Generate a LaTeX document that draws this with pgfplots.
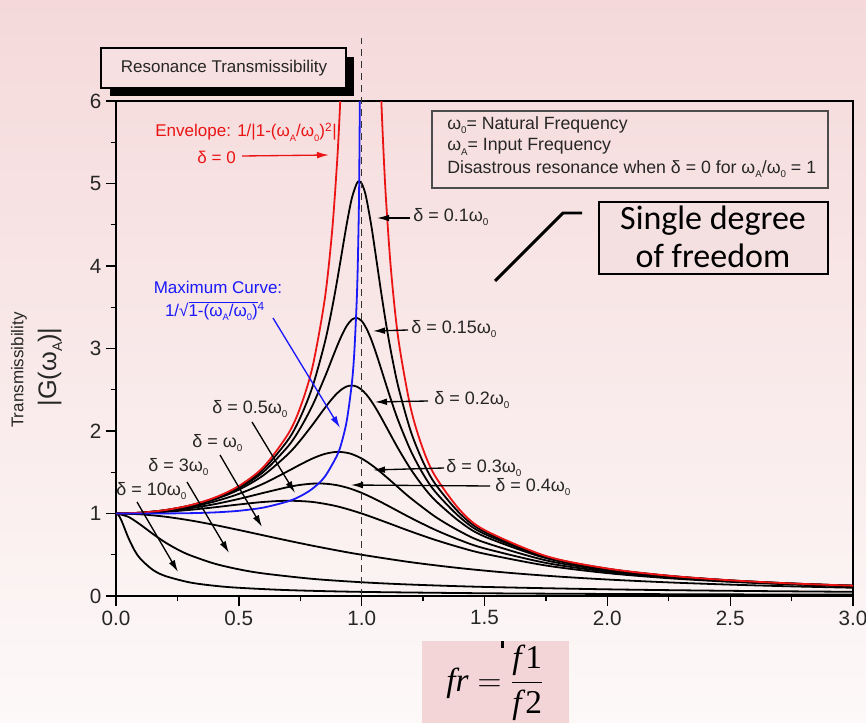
\documentclass[border=0pt]{standalone}
\usepackage{graphicx}
\usepackage{pgfplots}
\pgfplotsset{compat=1.18}
\usepackage{fontspec}
\setmainfont{Liberation Sans}
\newfontfamily\calib{Carlito}
\newfontfamily\tnr{Liberation Serif}
\usetikzlibrary{arrows.meta}
\definecolor{bgtop}{RGB}{245,217,218}
\definecolor{bgbot}{RGB}{253,249,249}
\definecolor{titlefill}{RGB}{247,224,225}
\definecolor{boxpink}{RGB}{243,213,215}
\definecolor{sdpink}{RGB}{244,224,225}
\definecolor{myred}{RGB}{235,20,20}
\definecolor{myblue}{RGB}{25,25,250}
\newcommand{\sub}[1]{\raisebox{-0.45ex}{\scalebox{0.55}{#1}}}
\newcommand{\fs}[1]{\fontsize{#1pt}{#1pt}\selectfont}
\begin{document}
\begin{tikzpicture}[x=0.75pt,y=-0.75pt]
\path[use as bounding box] (0,0) rectangle (866,723);
\shade[top color=bgtop,bottom color=bgbot] (0,0) rectangle (866,723);
% title box
\fill[black] (110,57) rectangle (354,96);
\draw[line width=0.8pt,fill=titlefill] (101,48) rectangle (346,88);
\node[font=\fs{12.75},black!85] at (224,68) {Resonance Transmissibility};
% formula box
\fill[boxpink] (422,641) rectangle (569,723);
\fill[black] (501,641) rectangle (504,648);
\node[font=\fs{25}] at (495,683) {$\displaystyle \hbox{\tnr\itshape fr}=\frac{\hbox{\tnr\itshape f\/\upshape 1}}{\hbox{\tnr\itshape f\/\upshape 2}}$};
\begin{axis}[at={(87pt,-447pt)},anchor=south west,scale only axis,
  width=552.75pt,height=371.25pt,
  xmin=0,xmax=3,ymin=0,ymax=6,
  axis line style={line width=1.4pt},
  every tick/.style={black,line width=1pt},
  tick align=outside,
  xtick pos=bottom, ytick pos=left,
  xtick={0,0.5,1,1.5,2,2.5,3}, ytick={0,1,2,3,4,5,6},
  minor x tick num=1, minor y tick num=1,
  major tick length=7.5pt, minor tick length=4pt,
  xticklabel style={/pgf/number format/.cd,fixed,fixed zerofill,precision=1},
  /pgf/number format/assume math mode=true,
  tick label style={font=\fs{15.5},black!85},
  every axis plot/.append style={line width=1.35pt,smooth,no markers}]
% delta = 0.1
\addplot[black] coordinates {(0,1) (0.1,1.0099) (0.2,1.0408) (0.3,1.0965) (0.4,1.1851) (0.5,1.3216) (0.6,1.5357) (0.7,1.8908) (0.75,2.1622) (0.8,2.5384) (0.85,3.0728) (0.88,3.4949) (0.9,3.8208) (0.92,4.1721) (0.94,4.5224) (0.96,4.8218) (0.98,5.0010) (0.99,5.0251) (1.0,5.0) (1.01,4.9262) (1.02,4.8086) (1.04,4.4755) (1.06,4.0750) (1.08,3.6675) (1.1,3.2880) (1.12,2.9502) (1.15,2.5245) (1.2,1.9952) (1.25,1.6246) (1.3,1.3562) (1.4,1.0) (1.5,0.7779) (1.75,0.4780) (2.0,0.3304) (2.25,0.2447) (2.5,0.1896) (2.75,0.1519) (3.0,0.1247)};
% delta = 0.15
\addplot[black] coordinates {(0,1) (0.1,1.0096) (0.2,1.0396) (0.3,1.0936) (0.4,1.1785) (0.5,1.3074) (0.6,1.5041) (0.7,1.8131) (0.75,2.0327) (0.8,2.3113) (0.85,2.6534) (0.88,2.8797) (0.9,3.0289) (0.92,3.1660) (0.94,3.2778) (0.96,3.3503) (0.98,3.3709) (1.0,3.3333) (1.02,3.2398) (1.04,3.1009) (1.06,2.9311) (1.08,2.7455) (1.1,2.5566) (1.12,2.3728) (1.15,2.1174) (1.2,1.7590) (1.25,1.4792) (1.3,1.2617) (1.4,0.9543) (1.5,0.7527) (1.75,0.4699) (2.0,0.3269) (2.25,0.2428) (2.5,0.1886) (2.75,0.1512) (3.0,0.1242)};
% delta = 0.2
\addplot[black] coordinates {(0,1) (0.1,1.0093) (0.2,1.0381) (0.3,1.0895) (0.4,1.1695) (0.5,1.2883) (0.6,1.4630) (0.7,1.7188) (0.75,1.8851) (0.8,2.0761) (0.85,2.2786) (0.88,2.3918) (0.9,2.4566) (0.92,2.5077) (0.94,2.5407) (0.96,2.5515) (0.98,2.5381) (1.0,2.5) (1.02,2.4391) (1.04,2.3589) (1.06,2.2642) (1.08,2.1601) (1.1,2.0511) (1.15,1.7800) (1.2,1.5357) (1.25,1.3287) (1.3,1.1574) (1.4,0.8998) (1.5,0.7212) (1.75,0.4591) (2.0,0.3221) (2.25,0.2403) (2.5,0.1871) (2.75,0.1503) (3.0,0.1236)};
% delta = 0.3
\addplot[black] coordinates {(0,1) (0.1,1.0083) (0.2,1.0336) (0.3,1.0780) (0.4,1.1447) (0.5,1.2380) (0.6,1.3618) (0.7,1.5136) (0.75,1.5933) (0.8,1.6667) (0.85,1.7223) (0.9,1.7469) (0.95,1.7293) (1.0,1.6667) (1.05,1.5667) (1.1,1.4438) (1.15,1.3129) (1.2,1.1851) (1.3,0.9603) (1.4,0.7839) (1.5,0.6492) (1.75,0.4321) (2.0,0.3095) (2.25,0.2336) (2.5,0.1832) (2.75,0.1478) (3.0,0.1220)};
% delta = 0.4
\addplot[black] coordinates {(0,1) (0.1,1.0068) (0.2,1.0275) (0.3,1.0626) (0.4,1.1125) (0.5,1.1765) (0.6,1.25) (0.7,1.3203) (0.75,1.3467) (0.8,1.3618) (0.85,1.3616) (0.9,1.3429) (0.95,1.3051) (1.0,1.25) (1.05,1.1817) (1.1,1.1053) (1.2,0.9469) (1.3,0.8012) (1.4,0.6779) (1.5,0.5771) (1.75,0.4012) (2.0,0.2941) (2.25,0.2251) (2.5,0.1780) (2.75,0.1445) (3.0,0.1197)};
% delta = 0.5
\addplot[black] coordinates {(0,1) (0.1,1.0050) (0.2,1.0198) (0.3,1.0437) (0.4,1.0748) (0.5,1.1094) (0.6,1.1399) (0.7,1.1546) (0.8,1.1399) (0.9,1.0871) (1.0,1.0) (1.1,0.8930) (1.2,0.7824) (1.3,0.6795) (1.4,0.5891) (1.5,0.5122) (1.75,0.3697) (2.0,0.2774) (2.25,0.2153) (2.5,0.1720) (2.75,0.1405) (3.0,0.1170)};
% delta = 1
\addplot[black] coordinates {(0,1) (0.1,0.9901) (0.2,0.9615) (0.3,0.9174) (0.4,0.8621) (0.5,0.8) (0.6,0.7353) (0.7,0.6711) (0.8,0.6098) (0.9,0.5525) (1.0,0.5) (1.2,0.4098) (1.4,0.3378) (1.6,0.2809) (1.8,0.2358) (2.0,0.2) (2.25,0.1649) (2.5,0.1379) (2.75,0.1168) (3.0,0.1)};
% delta = 3
\addplot[black] coordinates {(0,1) (0.05,0.9600) (0.1,0.8638) (0.15,0.7526) (0.2,0.6507) (0.25,0.5653) (0.3,0.4958) (0.4,0.3933) (0.5,0.3234) (0.6,0.2735) (0.8,0.2078) (1.0,0.1667) (1.2,0.1386) (1.5,0.1101) (2.0,0.0809) (2.5,0.0629) (3.0,0.0508)};
% delta = 10
\addplot[black] coordinates {(0,1) (0.01,0.9807) (0.02,0.9288) (0.03,0.8581) (0.05,0.7080) (0.075,0.5557) (0.1,0.4481) (0.15,0.3169) (0.2,0.2431) (0.3,0.1648) (0.4,0.1243) (0.5,0.0997) (0.7,0.0714) (1.0,0.05) (1.5,0.0333) (2.0,0.0249) (2.5,0.0199) (3.0,0.0165)};
% envelope delta = 0
\addplot[myred] coordinates {(0,1) (0.1,1.0101) (0.2,1.0417) (0.3,1.0989) (0.4,1.1905) (0.5,1.3333) (0.6,1.5625) (0.7,1.9608) (0.75,2.2857) (0.8,2.7778) (0.85,3.6036) (0.88,4.4326) (0.9,5.2632) (0.91,5.8173) (0.92,6.5104) (0.93,7.4019)};
\addplot[myred] coordinates {(1.07,6.9013) (1.08,6.0096) (1.09,5.3163) (1.1,4.7619) (1.12,3.9308) (1.15,3.1008) (1.2,2.2727) (1.25,1.7778) (1.3,1.4493) (1.4,1.0417) (1.5,0.8) (1.75,0.4848) (2.0,0.3333) (2.25,0.2462) (2.5,0.1905) (2.75,0.1524) (3.0,0.125)};
% maximum curve
\addplot[myblue] coordinates {(0,1) (0.1,1.0001) (0.2,1.0008) (0.3,1.0041) (0.4,1.0131) (0.5,1.0328) (0.6,1.0719) (0.7,1.1472) (0.75,1.2095) (0.8,1.3015) (0.85,1.4464) (0.9,1.7053) (0.92,1.8778) (0.94,2.1357) (0.96,2.5764) (0.97,2.9526) (0.98,3.5891) (0.985,4.1288) (0.99,5.0379) (0.995,7.0977)};
\end{axis}
% dashed line at 1
\draw[dash pattern=on 5.5pt off 3.5pt,line width=1.1pt,black!80] (361.67,596) -- (361.67,38);
% red annotation
\node[myred,anchor=east,inner sep=0,font=\fs{12.75}] at (337,132) {Envelope: 1/|1-(ω\sub{A}/ω\sub{0})\textsuperscript{2}|};
\node[myred,anchor=east,inner sep=0,font=\fs{12.75}] at (236,157) {δ = 0};
\draw[myred,line width=1pt,-{Latex[length=9pt,width=5pt]}] (242,156) -- (329,155);
% blue annotation
\node[myblue,font=\fs{12.75}] at (218,287) {Maximum Curve:};
\node[myblue,font=\fs{12.75}] at (215,311) {1/√$\overline{\hbox{1-(ω\sub{A}/ω\sub{0})}}$\textsuperscript{4}};
\draw[myblue,line width=1pt,-{Latex[length=9pt,width=5pt]}] (273,318) -- (340,428);
% black annotations
\tikzset{lab/.style={anchor=west,inner sep=0,font=\fs{13.5},black!85},
  arr/.style={line width=1pt,black,-{Latex[length=9pt,width=5pt]}}}
\draw[arr] (410,218) -- (377,218); \node[lab] at (413,217) {δ = 0.1ω\sub{0}};
\draw[arr] (408,330) -- (373,331); \node[lab] at (411,329) {δ = 0.15ω\sub{0}};
\draw[arr] (428,401) -- (375,402); \node[lab] at (434,400) {δ = 0.2ω\sub{0}};
\draw[arr] (444,468) -- (373,470); \node[lab] at (446,468) {δ = 0.3ω\sub{0}};
\draw[arr] (490,486) -- (351,485); \node[lab] at (495,487) {δ = 0.4ω\sub{0}};
\node[lab] at (212,409) {δ = 0.5ω\sub{0}}; \draw[arr] (252,422) -- (295,493);
\node[lab] at (192,443) {δ = ω\sub{0}}; \draw[arr] (220,455) -- (262,527);
\node[lab] at (148,467) {δ = 3ω\sub{0}}; \draw[arr] (187,482) -- (229,553);
\node[lab] at (116,491) {δ = 10ω\sub{0}}; \draw[arr] (137,502) -- (178,572);
% info box
\draw[line width=0.8pt,black!70] (432,111) rectangle (828,188);
\node[anchor=west,inner sep=0,font=\fs{13.3},black!85] at (447,125) {ω\sub{0}= Natural Frequency};
\node[anchor=west,inner sep=0,font=\fs{13.3},black!85] at (447,147) {ω\sub{A}= Input Frequency};
\node[anchor=west,inner sep=0,font=\fs{13.3},black!85] at (447,169) {Disastrous resonance when δ = 0 for ω\sub{A}/ω\sub{0} = 1};
% single degree box
\draw[line width=2.2pt,fill=sdpink] (599,202) rectangle (828,274);
\node[font=\calib\fs{25.5}] at (713,221) {Single degree};
\node[font=\calib\fs{25.5}] at (713,256) {of freedom};
\draw[line width=2.2pt] (495,281) -- (563,213) -- (582,213);
% axis labels
\node[rotate=90,font=\fs{12.75},black!85] at (19,370) {Transmissibility};
\node[rotate=90,font=\fs{19},black!85] at (50,367) {|G(ω\sub{A})|};
\end{tikzpicture}
\end{document}
